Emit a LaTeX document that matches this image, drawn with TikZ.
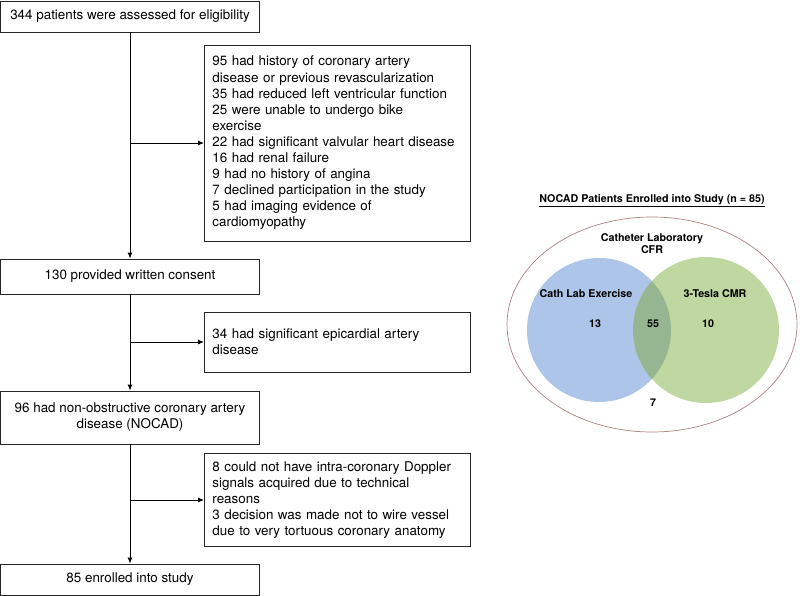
\documentclass[tikz,border=0pt]{standalone}
\usepackage{fontspec}
\setmainfont{TeX Gyre Heros}
\usepackage{tikz}
\usetikzlibrary{arrows.meta}
\definecolor{cathblue}{RGB}{172,197,232}
\definecolor{cmrgreen}{RGB}{191,215,161}
\definecolor{overlapgreen}{RGB}{150,182,146}
\definecolor{rimbrown}{RGB}{172,128,128}
\newcommand{\boxlines}[1]{\begin{tabular}{@{}c@{}}#1\end{tabular}}

\begin{document}
\begin{tikzpicture}[x=1pt,y=-1pt,
    mainbox/.style={draw=black!85,line width=0.9pt,minimum width=259pt,inner xsep=0pt,inner ysep=2pt,
        font=\fontsize{13.4}{16.1}\selectfont},
    sidebox/.style={draw=black!85,line width=0.9pt,align=left,text width=250pt,inner xsep=8pt,inner ysep=2pt,anchor=west,
        font=\fontsize{13.4}{16.1}\selectfont},
    arr/.style={line width=0.9pt,-{Latex[length=6pt,width=5pt]}},
    vennlabel/.style={font=\fontsize{10.7}{12.5}\selectfont\bfseries,align=center}]
    \useasboundingbox (0,0) rectangle (800,596);
    % flow chart
    \node[mainbox,minimum height=31pt] (assessed) at (130,16.5) {\boxlines{344 patients were assessed for eligibility}};
    \node[sidebox,minimum height=196pt] (excl1) at (204,143) {95 had history of coronary artery\\disease or previous revascularization\\35 had reduced left ventricular function\\25 were unable to undergo bike\\exercise\\22 had significant valvular heart disease\\16 had renal failure\\9 had no history of angina\\7 declined participation in the study\\5 had imaging evidence of\\cardiomyopathy};
    \node[mainbox,minimum height=35pt] (consent) at (130,276.5) {\boxlines{130 provided written consent}};
    \node[sidebox,minimum height=60pt] (excl2) at (204,342) {34 had significant epicardial artery\\disease};
    \node[mainbox,minimum height=53pt] (nocad) at (130,417.5) {\boxlines{96 had non-obstructive coronary artery\\disease (NOCAD)}};
    \node[sidebox,minimum height=93pt] (excl3) at (204,500) {8 could not have intra-coronary Doppler\\signals acquired due to technical\\reasons\\3 decision was made not to wire vessel\\due to very tortuous coronary anatomy};
    \node[mainbox,minimum height=31pt] (enrolled) at (130,579.5) {\boxlines{85 enrolled into study}};
    \draw[arr] (assessed) -- (consent);
    \draw[arr] (assessed.south |- excl1.west) -- (excl1.west);
    \draw[arr] (consent) -- (nocad);
    \draw[arr] (consent.south |- excl2.west) -- (excl2.west);
    \draw[arr] (nocad) -- (enrolled);
    \draw[arr] (nocad.south |- excl3.west) -- (excl3.west);
    % venn diagram
    \node[vennlabel] (venntitle) at (652,201) {\underline{NOCAD Patients Enrolled into Study (n = 85)}};
    \draw[rimbrown,line width=0.7pt] (652,324.5) ellipse [x radius=145,y radius=107.5];
    \fill[cathblue] (599,330) circle [radius=72];
    \fill[cmrgreen] (706,330) circle [radius=73];
    \begin{scope}
        \clip (599,330) circle [radius=72];
        \fill[overlapgreen] (706,330) circle [radius=73];
    \end{scope}
    \node[vennlabel] (cfr) at (652,243.5) {Catheter Laboratory\\CFR};
    \node[vennlabel] (cathlab) at (586,294) {Cath Lab Exercise};
    \node[vennlabel] (tesla) at (715,294) {3-Tesla CMR};
    \node[vennlabel] (only13) at (595,324) {13};
    \node[vennlabel] (both55) at (653,324) {55};
    \node[vennlabel] (only10) at (708,324) {10};
    \node[vennlabel] (none7) at (653,403) {7};
\end{tikzpicture}
\end{document}
